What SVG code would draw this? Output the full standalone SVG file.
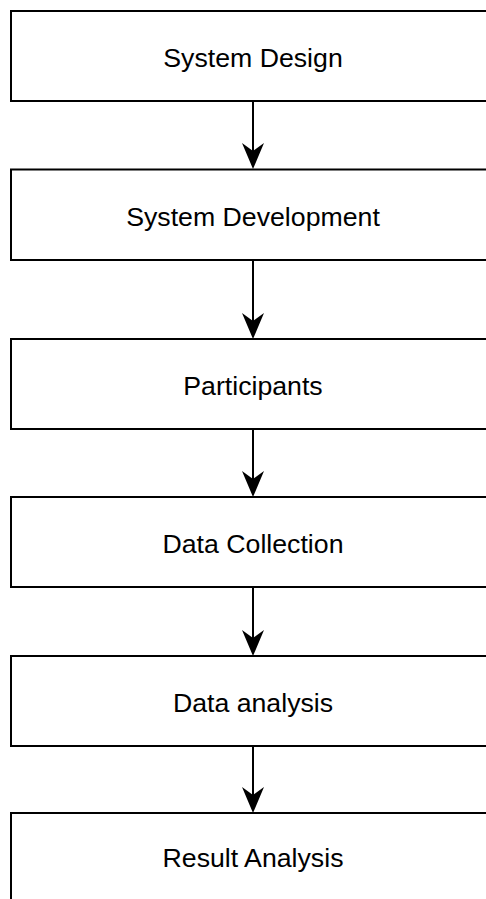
<svg xmlns="http://www.w3.org/2000/svg" width="486" height="899" viewBox="0 0 486 899">
  <style>
    .box { fill: #ffffff; stroke: #000000; stroke-width: 2; }
    .label { font-family: "Liberation Sans", Arial, sans-serif; font-size: 26.7px; fill: #000000; text-anchor: middle; }
    .link { fill: none; stroke: #000000; stroke-width: 2; marker-end: url(#head); }
  </style>
  <defs>
    <!-- notched arrowhead; the line stops at the notch, the tip reaches the next box -->
    <marker id="head" markerUnits="userSpaceOnUse" viewBox="-27 -12 28 24" refX="-18" refY="0" markerWidth="28" markerHeight="24" orient="auto">
      <path d="M0,0 L-26,-11 L-18,0 L-26,11 Z" fill="#000000"/>
    </marker>
  </defs>
  <rect width="486" height="899" fill="#ffffff"/>

  <g id="connectors">
    <path class="link" d="M253,101 V151"/>
    <path class="link" d="M253,260 V321"/>
    <path class="link" d="M253,429 V479"/>
    <path class="link" d="M253,587 V638"/>
    <path class="link" d="M253,746 V795"/>
  </g>

  <g id="system-design">
    <rect class="box" x="11" y="11" width="484" height="90"/>
    <text class="label" x="253" y="66.5">System Design</text>
  </g>
  <g id="system-development">
    <rect class="box" x="11" y="169.5" width="484" height="90.5"/>
    <text class="label" x="253" y="226">System Development</text>
  </g>
  <g id="participants">
    <rect class="box" x="11" y="339" width="484" height="90"/>
    <text class="label" x="253" y="394.5">Participants</text>
  </g>
  <g id="data-collection">
    <rect class="box" x="11" y="497" width="484" height="90"/>
    <text class="label" x="253" y="552.5">Data Collection</text>
  </g>
  <g id="data-analysis">
    <rect class="box" x="11" y="656" width="484" height="90"/>
    <text class="label" x="253" y="711.5">Data analysis</text>
  </g>
  <g id="result-analysis">
    <rect class="box" x="11" y="813" width="484" height="90"/>
    <text class="label" x="253" y="866.5">Result Analysis</text>
  </g>
</svg>
